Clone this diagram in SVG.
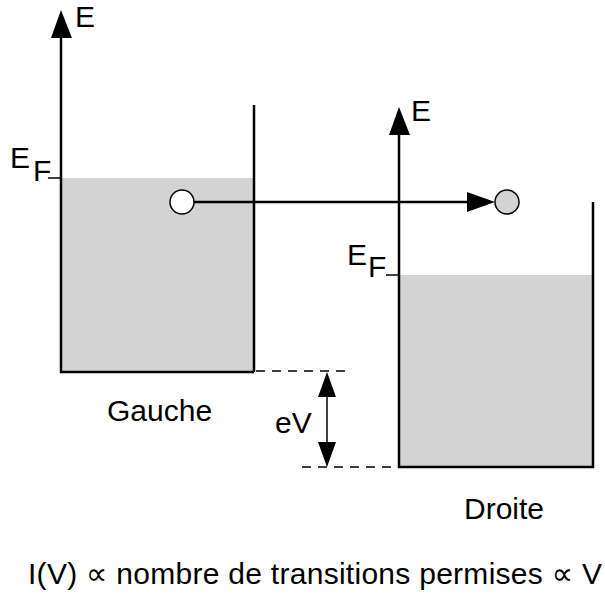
<svg xmlns="http://www.w3.org/2000/svg" width="605" height="594" viewBox="0 0 605 594">
<style>
.ln{stroke:#000;stroke-width:2.5;fill:none}
.thin{stroke:#000;stroke-width:1.5;fill:none}
.dash{stroke:#000;stroke-width:1.5;fill:none;stroke-dasharray:9 7}
.fill{fill:#d3d3d3;stroke:none}
.t{font-family:"Liberation Sans",Arial,"DejaVu Sans",sans-serif;font-size:30px;fill:#000}
.head{fill:#000;stroke:none}
</style>
<rect width="605" height="594" fill="#fff"/>
<g id="gauche">
<rect class="fill" x="61" y="178" width="193" height="194"/>
<polyline class="ln" points="61,36 61,372 254,372"/>
<line class="ln" x1="254" y1="105" x2="254" y2="372"/>
<polygon class="head" points="61,10 51,38 72,38"/>
<text class="t" x="75" y="27" font-size="29">E</text>
<text class="t" x="10" y="168">E</text>
<text class="t" x="33" y="181">F</text>
<line class="thin" x1="48" y1="178" x2="61" y2="178"/>
<text class="t" x="107" y="421">Gauche</text>
</g>
<g id="droite">
<rect class="fill" x="399" y="275" width="194" height="192"/>
<polyline class="ln" points="399,133 399,467 593,467 593,202"/>
<polygon class="head" points="399,107 389,135 410,135"/>
<text class="t" x="411" y="121">E</text>
<text class="t" x="347" y="265">E</text>
<text class="t" x="368" y="277">F</text>
<line class="thin" x1="386" y1="275" x2="399" y2="275"/>
<text class="t" x="464" y="519">Droite</text>
</g>
<g id="connectors">
<line class="ln" x1="194" y1="202" x2="470" y2="202"/>
<polygon class="head" points="495,202 467,192 467,212"/>
<line class="dash" x1="256" y1="371" x2="350" y2="371"/>
<line class="dash" x1="302" y1="467" x2="398" y2="467"/>
<line class="thin" x1="327" y1="395" x2="327" y2="444"/>
<polygon class="head" points="327,372 318,397 336,397"/>
<polygon class="head" points="327,467 318,442 336,442"/>
</g>
<g id="electrons">
<circle cx="182" cy="202" r="12" fill="#fff" stroke="#000" stroke-width="1.5"/>
<circle cx="507" cy="202" r="12" fill="#d3d3d3" stroke="#000" stroke-width="1.5"/>
</g>
<text class="t" x="275" y="433">eV</text>
<text class="t" x="28" y="584" textLength="574" lengthAdjust="spacing">I(V) ∝ nombre de transitions permises ∝ V</text>
</svg>
